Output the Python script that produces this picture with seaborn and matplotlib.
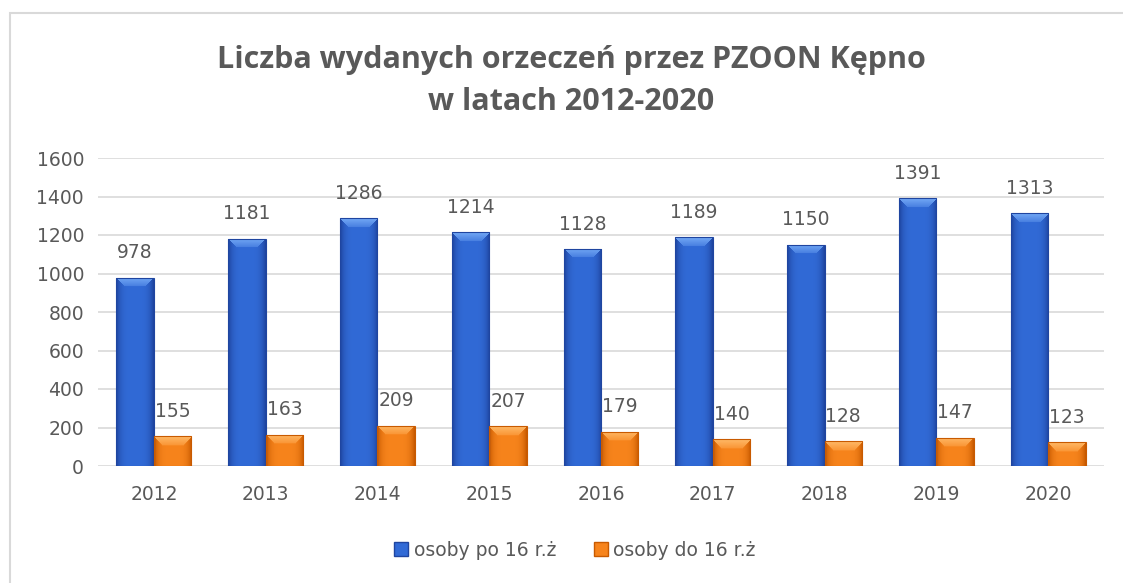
import numpy as np
import pandas as pd
import seaborn as sns
import matplotlib.pyplot as plt
from matplotlib.patches import Rectangle, Patch
from matplotlib.colors import to_rgb

years = ['2012', '2013', '2014', '2015', '2016', '2017', '2018', '2019', '2020']
po_16 = [978, 1181, 1286, 1214, 1128, 1189, 1150, 1391, 1313]
do_16 = [155, 163, 209, 207, 179, 140, 128, 147, 123]
series = ['osoby po 16 r.ż', 'osoby do 16 r.ż']

df = pd.DataFrame({
    'rok': years * 2,
    'liczba': po_16 + do_16,
    'grupa': [series[0]] * len(years) + [series[1]] * len(years),
})

# body / edge / bevel colours for the excel-like bars
styles = {
    series[0]: ('#316ad6', '#1f45a0', '#73a8f5'),
    series[1]: ('#f7841c', '#c85a00', '#ffb866'),
}

sns.set_theme(style='white')
plt.rcParams['font.family'] = ['DejaVu Sans']

fig = plt.figure(figsize=(11.23, 5.83), dpi=100)
ax = fig.add_axes([98 / 1123, 117 / 583, 1006 / 1123, 308 / 583])

sns.barplot(data=df, x='rok', y='liczba', hue='grupa', order=years,
            hue_order=series, palette=[styles[s][0] for s in series],
            width=0.67, gap=0, ax=ax, legend=False, saturation=1)

ax.set_ylim(0, 1600)
ax.set_xlim(-0.5, 8.5)
ax.set_yticks(range(0, 1601, 200))
ax.yaxis.grid(True, color='#d9d9d9', linewidth=1.2)
ax.set_axisbelow(True)
for sp in ax.spines.values():
    sp.set_visible(False)
ax.set_xlabel('')
ax.set_ylabel('')
ax.tick_params(axis='both', labelsize=13.5, colors='#595959', length=0)
ax.tick_params(axis='x', pad=14)
ax.tick_params(axis='y', pad=10)

px_per_unit = 308 / 1600


def shade(patch, body, edge, top):
    x0, y0 = patch.get_x(), patch.get_y()
    w, h = patch.get_width(), patch.get_height()
    ny = max(int(h * px_per_unit), 2)
    nx = 38
    b, e, t = np.array(to_rgb(body)), np.array(to_rgb(edge)), np.array(to_rgb(top))
    xs = np.linspace(-1, 1, nx)
    mix = np.abs(xs) ** 4
    row = (1 - mix)[:, None] * b + mix[:, None] * e
    img = np.repeat(row[None, :, :], ny, axis=0)
    bevel = 9
    for i in range(min(bevel, ny)):
        frac = 1 - i / bevel * 0.7
        img[i, i:nx - i] = frac * t + (1 - frac) * b
    im = ax.imshow(img, extent=(x0, x0 + w, y0, y0 + h), aspect='auto',
                   origin='upper', zorder=2, interpolation='bilinear')
    im.set_clip_path(patch)
    patch.set_facecolor('none')
    patch.set_edgecolor(edge)
    patch.set_linewidth(0.8)
    patch.set_zorder(3)


for container, name in zip(ax.containers, series):
    body, edge, top = styles[name]
    for patch in container:
        shade(patch, body, edge, top)
    ax.bar_label(container, padding=11, fontsize=13.5, color='#595959')

ax.set_xlim(-0.5, 8.5)
ax.set_ylim(0, 1600)

fig.text(571 / 1123, 1 - 81 / 583,
         'Liczba wydanych orzeczeń przez PZOON Kępno\nw latach 2012-2020',
         ha='center', va='center', fontsize=22, fontweight='bold',
         color='#595959', linespacing=1.5, family=['Open Sans', 'DejaVu Sans'])

handles = [Patch(facecolor=styles[s][0], edgecolor=styles[s][1]) for s in series]
fig.legend(handles, series, loc='center', bbox_to_anchor=(575 / 1123, 1 - 550 / 583),
           ncol=2, frameon=False, handlelength=0.75, handleheight=0.75,
           handletextpad=0.3, columnspacing=2.0, labelcolor='#595959',
           prop={'family': ['DejaVu Sans'], 'size': 13.5})

fig.patches.append(Rectangle((10 / 1123, -0.05), 2, 1 - 13 / 583 + 0.05,
                             transform=fig.transFigure, fill=False,
                             edgecolor='#d9d9d9', linewidth=1.5))

fig.savefig('out.png', dpi=100)
